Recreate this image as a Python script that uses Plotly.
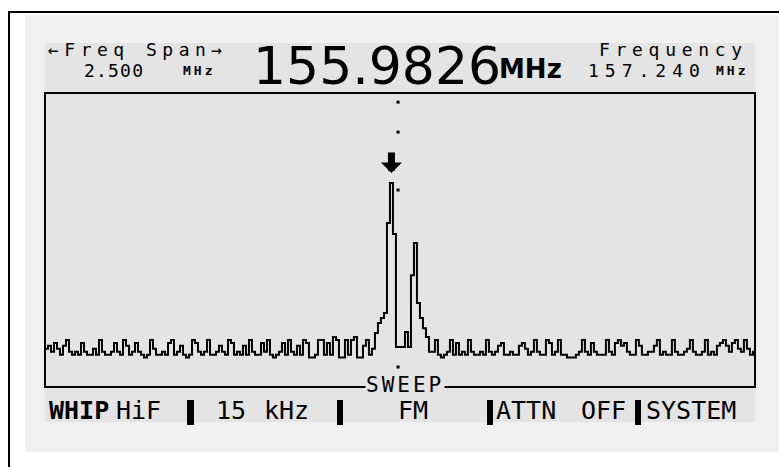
import plotly.graph_objects as go

# ---------------- data (spectrum sweep, 237 bins, level 0..100 of screen) -------------
noise_left = [
    13, 14, 12, 15, 13, 11, 14, 16, 12, 11,
    12, 11, 15, 12, 11, 11, 13, 11, 16, 12,
    11, 11, 12, 15, 12, 11, 16, 14, 11, 12,
    15, 12, 11, 10, 11, 16, 13, 11, 11, 12,
    11, 15, 16, 11, 12, 14, 11, 10, 11, 16,
    15, 12, 11, 12, 16, 11, 11, 12, 14, 12,
    11, 16, 15, 11, 12, 11, 14, 11, 16, 12,
    11, 11, 15, 12, 16, 11, 10, 11, 12, 15,
    11, 16, 12, 11, 14, 11, 16, 15, 10, 10,
    11, 16, 16, 11, 15, 11, 17, 16, 10, 10,
    16, 11, 16, 17, 10, 10, 14, 16, 11, 13,
]
signal_peak = [18.4, 21.8, 23.5, 25.2, 55.8, 69.4, 52, 13.6, 13.6, 13.6,
               18.7, 13.6, 38, 49, 28.6, 23.5, 20, 17, 12]
noise_right = [
    12, 16, 11, 10, 11, 12, 16, 11, 15, 11,
    12, 11, 16, 12, 11, 11, 12, 11, 16, 12,
    11, 12, 14, 15, 11, 11, 12, 11, 11, 14,
    15, 13, 11, 12, 16, 12, 11, 11, 16, 15,
    11, 12, 16, 11, 11, 10, 10, 10, 11, 12,
    16, 12, 11, 15, 12, 11, 11, 11, 16, 12,
    11, 15, 16, 14, 15, 12, 11, 11, 16, 14,
    11, 11, 12, 12, 14, 16, 11, 12, 11, 11,
    16, 12, 11, 11, 12, 13, 16, 12, 11, 11,
    12, 16, 11, 12, 11, 14, 15, 16, 14, 12,
    15, 16, 13, 12, 16, 13, 11, 12,
]
levels = noise_left + signal_peak + noise_right
bins = list(range(len(levels)))

marker_bin = 115.5          # peak marker (arrow)
marker_level = 72.8
cursor_bin = 117.7          # dotted cursor
cursor_levels = [96.9, 86.7, 67.0, 6.8]

span_label = "2.500"
marker_freq = "155.9826"
center_freq = "157.240"
softkeys = ["WHIP", "HiF", "15", "kHz", "FM", "ATTN", "OFF", "SYSTEM"]

# ---------------- geometry helpers ----------------
W, H = 779, 467
L, R, T, B = 45, 755, 93, 387
def px(x):
    return (x - L) / (R - L)
def py(y):
    return (B - y) / (B - T)

LCD = "#e4e4e4"
LIGHT = "#f0f0f0"
MONO = "DejaVu Sans Mono"
SANS = "DejaVu Sans"

fig = go.Figure()
fig.add_trace(go.Scatter(
    x=bins + [len(levels)], y=levels + [levels[-1]],
    mode="lines", line=dict(color="black", width=2, shape="hv"),
    hoverinfo="skip", showlegend=False))
fig.add_trace(go.Scatter(
    x=[cursor_bin] * len(cursor_levels), y=cursor_levels, mode="markers",
    marker=dict(symbol="square", size=3, color="black"),
    hoverinfo="skip", showlegend=False))

shapes = [
    dict(type="rect", xref="paper", yref="paper", x0=px(25), x1=px(790), y0=py(452), y1=py(15),
         fillcolor=LIGHT, line=dict(width=0), layer="below"),
    dict(type="rect", xref="paper", yref="paper", x0=px(45), x1=px(755), y0=py(422), y1=py(43),
         fillcolor=LCD, line=dict(width=0), layer="below"),
    dict(type="line", xref="paper", yref="paper", x0=px(8), x1=px(790), y0=py(12), y1=py(12),
         line=dict(color="black", width=2)),
    dict(type="line", xref="paper", yref="paper", x0=px(9), x1=px(9), y0=py(11), y1=py(480),
         line=dict(color="black", width=2)),
    dict(type="rect", xref="paper", yref="paper", x0=0, x1=1, y0=0, y1=1,
         line=dict(color="black", width=2), layer="above"),
]
for x0, x1 in [(187, 194), (337, 343), (487, 493), (635, 641)]:
    shapes.append(dict(type="rect", xref="paper", yref="paper", x0=px(x0), x1=px(x1),
                       y0=py(425), y1=py(400), fillcolor="black", line=dict(width=0)))

def ann(text, x, y, size, xanchor="left", family=MONO, bold=False, spacing=None, bg=None):
    t = text
    if spacing:
        t = f'<span style="letter-spacing:{spacing}px">{t}</span>'
    if bold:
        t = f"<b>{t}</b>"
    d = dict(text=t, xref="paper", yref="paper", x=px(x), y=py(y), xanchor=xanchor,
             yanchor="middle", showarrow=False, font=dict(family=family, size=size, color="black"),
             borderpad=0)
    if bg:
        d["bgcolor"] = bg
    return d

annotations = [
    ann("←Freq Span→", 47, 49, 18, spacing=5.5),
    ann(span_label, 83, 71, 18, spacing=1.2),
    ann("MHz", 182, 71, 13, bold=True, spacing=3),
    ann(marker_freq, 252, 66, 52, family=SANS),
    ann("MHz", 498, 69, 26, family=SANS, bold=True),
    ann("Frequency", 598, 49, 18, spacing=5.7),
    ann(center_freq, 587, 71, 18, spacing=6),
    ann("MHz", 715, 71, 13, bold=True, spacing=3),
    ann("SWEEP", 405, 385, 21, xanchor="center", spacing=3, bg=LCD),
]
bottom_x = [48, 115, 215, 263, 397, 495, 580, 645]
bottom_bold = [True, False, False, False, False, False, False, False]
for txt, x, bd in zip(softkeys, bottom_x, bottom_bold):
    annotations.append(ann(txt, x, 410, 25, bold=bd))

annotations.append(dict(
    x=marker_bin, y=marker_level, xref="x", yref="y", ax=0, ay=-22,
    showarrow=True, arrowhead=1, arrowsize=0.5, arrowwidth=7, arrowcolor="black", text=""))

fig.update_layout(
    width=W, height=H, margin=dict(l=L, r=W - R, t=T, b=H - B, pad=0),
    paper_bgcolor="white", plot_bgcolor=LCD,
    xaxis=dict(range=[0, 236.7], visible=False, fixedrange=True),
    yaxis=dict(range=[0, 100], visible=False, fixedrange=True),
    shapes=shapes, annotations=annotations, showlegend=False,
)

fig.write_html("out.html", config={"displayModeBar": False, "staticPlot": True},
               post_script="document.body.style.margin='0';")
